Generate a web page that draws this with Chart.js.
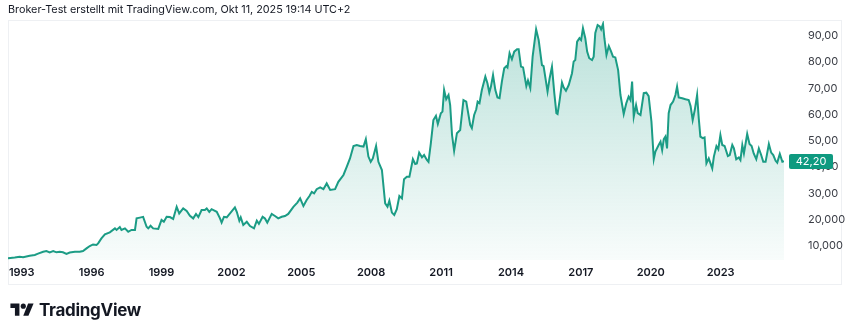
<!DOCTYPE html>
<html>
<head>
<meta charset="utf-8">
<script src="https://cdn.jsdelivr.net/npm/chart.js@4"></script>
<style>
    html, body { margin: 0; padding: 0; background: #fff; }
    #wrap { position: relative; width: 850px; height: 335px; overflow: hidden; }
    #chart { position: absolute; left: 0; top: 0; }
    #titel { position: absolute; left: 8px; top: 3px; font: 10.8px Inter, sans-serif; color: #131722; white-space: nowrap; }
    #logo { position: absolute; left: 10px; top: 300px; display: flex; align-items: center; }
    #logo span { font: 700 17px Inter, sans-serif; color: #131722; margin-left: 5px; letter-spacing: -0.3px; }
</style>
</head>
<body>
<div id="wrap">
    <canvas id="chart" width="850" height="335"></canvas>
    <div id="titel">Broker-Test erstellt mit TradingView.com, Okt 11, 2025 19:14 UTC+2</div>
    <div id="logo">
        <svg width="24" height="18" viewBox="0 0 36 28">
            <path d="M14 23H7V11H0V4h14v19z" fill="#131722"/>
            <circle cx="20" cy="8" r="4" fill="#131722"/>
            <path d="M28 23h-8l7.5-19h8.5z" fill="#131722"/>
        </svg>
        <span>TradingView</span>
    </div>
</div>
<script>
// Kursverlauf (Jahr als Dezimalzahl, Kurs)
const years = [
    1992.41, 1992.70, 1992.91, 1993.06, 1993.34, 1993.56, 1993.70, 1993.92, 1994.06, 1994.20,
    1994.35, 1994.49, 1994.63, 1994.77, 1994.92, 1995.06, 1995.28, 1995.49, 1995.63, 1995.78,
    1995.92, 1996.06, 1996.21, 1996.28, 1996.42, 1996.57, 1996.78, 1997.00, 1997.07, 1997.21,
    1997.28, 1997.43, 1997.57, 1997.71, 1997.86, 1997.93, 1998.07, 1998.21, 1998.36, 1998.43,
    1998.53, 1998.64, 1998.86, 1999.00, 1999.10, 1999.22, 1999.36, 1999.50, 1999.65, 1999.76,
    1999.93, 2000.08, 2000.22, 2000.36, 2000.48, 2000.58, 2000.72, 2000.86, 2000.94, 2001.05,
    2001.15, 2001.37, 2001.51, 2001.58, 2001.68, 2001.80, 2001.94, 2002.15, 2002.23, 2002.34,
    2002.40, 2002.51, 2002.66, 2002.80, 2002.97, 2003.09, 2003.18, 2003.34, 2003.44, 2003.54,
    2003.73, 2003.87, 2004.01, 2004.16, 2004.30, 2004.44, 2004.66, 2004.83, 2004.95, 2005.09,
    2005.23, 2005.35, 2005.45, 2005.55, 2005.66, 2005.81, 2005.95, 2006.09, 2006.24, 2006.45,
    2006.59, 2006.81, 2006.95, 2007.09, 2007.24, 2007.38, 2007.52, 2007.67, 2007.77, 2007.88,
    2007.98, 2008.07, 2008.21, 2008.31, 2008.46, 2008.60, 2008.70, 2008.78, 2008.89, 2008.99,
    2009.10, 2009.21, 2009.32, 2009.41, 2009.53, 2009.64, 2009.79, 2009.89, 2009.96, 2010.06,
    2010.18, 2010.27, 2010.39, 2010.46, 2010.56, 2010.67, 2010.78, 2010.86, 2010.99, 2011.06,
    2011.13, 2011.22, 2011.32, 2011.39, 2011.47, 2011.56, 2011.68, 2011.82, 2011.96, 2012.08,
    2012.25, 2012.32, 2012.42, 2012.51, 2012.57, 2012.65, 2012.75, 2012.90, 2012.99, 2013.07,
    2013.14, 2013.23, 2013.33, 2013.42, 2013.51, 2013.61, 2013.71, 2013.80, 2013.85, 2013.94,
    2014.04, 2014.14, 2014.26, 2014.33, 2014.43, 2014.52, 2014.66, 2014.73, 2014.83, 2014.93,
    2015.08, 2015.19, 2015.33, 2015.40, 2015.57, 2015.66, 2015.76, 2015.86, 2015.95, 2016.00,
    2016.09, 2016.19, 2016.26, 2016.36, 2016.48, 2016.62, 2016.69, 2016.76, 2016.84, 2016.94,
    2017.01, 2017.09, 2017.19, 2017.27, 2017.36, 2017.48, 2017.55, 2017.62, 2017.72, 2017.81,
    2017.87, 2017.95, 2018.01, 2018.10, 2018.20, 2018.30, 2018.38, 2018.48, 2018.60, 2018.70,
    2018.84, 2018.95, 2019.05, 2019.13, 2019.20, 2019.27, 2019.37, 2019.44, 2019.56, 2019.70,
    2019.81, 2019.91, 2020.03, 2020.13, 2020.20, 2020.34, 2020.42, 2020.49, 2020.56, 2020.63,
    2020.70, 2020.77, 2020.85, 2020.96, 2021.06, 2021.13, 2021.20, 2021.35, 2021.49, 2021.63,
    2021.71, 2021.80, 2021.89, 2021.99, 2022.06, 2022.13, 2022.23, 2022.31, 2022.39, 2022.49,
    2022.64, 2022.71, 2022.82, 2022.90, 2022.99, 2023.07, 2023.17, 2023.31, 2023.39, 2023.50,
    2023.57, 2023.67, 2023.78, 2023.85, 2023.93, 2024.00, 2024.14, 2024.24, 2024.33, 2024.42,
    2024.53, 2024.64, 2024.74, 2024.83, 2024.93, 2025.07, 2025.17, 2025.26, 2025.36, 2025.43,
    2025.54, 2025.65, 2025.72
];
const prices = [
    5.3, 5.6, 5.9, 5.7, 6.3, 6.6, 7.1, 7.8, 8.1, 7.6,
    8.1, 7.6, 7.8, 7.6, 7.0, 7.5, 7.8, 7.8, 8.1, 9.1,
    10.0, 10.6, 10.4, 11.0, 12.9, 14.4, 15.2, 16.7, 16.1, 17.2,
    16.1, 16.7, 15.4, 16.1, 16.1, 20.5, 20.8, 21.1, 17.3, 16.7,
    17.7, 16.7, 16.5, 19.9, 19.2, 21.1, 21.0, 20.3, 24.9, 22.4,
    24.3, 23.3, 21.5, 20.5, 22.2, 21.0, 23.7, 23.7, 24.3, 23.0,
    24.0, 23.0, 20.5, 18.9, 21.1, 20.9, 22.4, 24.7, 23.0, 19.6,
    20.9, 18.0, 19.2, 17.6, 16.7, 19.6, 18.4, 21.1, 20.5, 18.9,
    22.2, 21.4, 20.5, 21.1, 21.4, 22.2, 24.9, 26.5, 28.1, 25.2,
    27.5, 29.0, 30.6, 30.0, 31.6, 32.3, 31.6, 33.8, 31.3, 31.6,
    34.4, 37.0, 40.1, 43.3, 48.0, 48.4, 48.0, 47.8, 50.6, 44.0,
    42.0, 43.3, 48.0, 42.0, 38.9, 26.2, 24.9, 27.2, 22.7, 21.8,
    24.0, 29.0, 28.1, 35.4, 36.3, 36.3, 43.0, 41.2, 41.4, 45.5,
    43.7, 44.6, 42.7, 42.0, 49.0, 57.9, 59.5, 56.4, 60.5, 61.1,
    69.3, 65.8, 67.4, 63.6, 52.2, 46.2, 52.9, 54.1, 65.5, 64.9,
    56.0, 54.8, 59.8, 62.0, 64.9, 64.3, 69.3, 74.4, 71.9, 68.3,
    70.6, 75.0, 69.3, 66.5, 66.2, 72.5, 77.6, 78.4, 77.9, 83.3,
    81.0, 83.9, 84.8, 84.8, 78.2, 77.9, 70.8, 72.9, 70.0, 82.0,
    92.4, 88.3, 78.8, 78.4, 68.7, 73.8, 78.2, 68.1, 60.5, 60.2,
    65.5, 72.1, 70.3, 69.0, 71.2, 75.7, 80.1, 80.7, 87.7, 89.0,
    88.3, 92.8, 89.0, 83.9, 81.4, 80.7, 82.0, 91.0, 94.0, 93.5,
    92.4, 94.4, 89.0, 82.6, 86.0, 83.9, 82.0, 81.7, 76.9, 67.4,
    60.2, 64.3, 66.8, 65.5, 72.5, 59.2, 63.6, 60.5, 59.8, 68.1,
    68.3, 67.0, 57.3, 43.0, 45.9, 48.4, 49.7, 46.5, 50.6, 51.6,
    47.1, 60.5, 63.6, 64.9, 67.4, 70.6, 66.5, 66.2, 65.8, 65.5,
    63.2, 57.9, 61.7, 67.4, 58.6, 51.6, 51.0, 51.3, 41.4, 43.3,
    39.5, 44.0, 48.0, 46.8, 52.2, 48.4, 48.0, 44.2, 44.6, 48.4,
    47.1, 43.0, 43.7, 42.7, 48.4, 45.2, 52.6, 48.8, 48.0, 45.2,
    43.0, 47.1, 44.6, 42.0, 42.0, 48.8, 45.5, 44.6, 42.4, 41.7,
    45.0, 42.0, 42.2
];

// Achsenbeschriftungen
const tickYears = [1993, 1996, 1999, 2002, 2005, 2008, 2011, 2014, 2017, 2020, 2023];
const tickValues = [10, 20, 30, 40, 50, 60, 70, 80, 90];
const tickLabels = ['10,000', '20,000', '30,00', '40,00', '50,00', '60,00', '70,00', '80,00', '90,00'];

const lineColor = '#1b9c85';
const boxColor = '#0f9a80';

// Rahmen + Kursmarke rechts
const tvPlugin = {
    id: 'tvPlugin',
    beforeDraw(chart) {
        const ctx = chart.ctx;
        ctx.save();
        ctx.strokeStyle = '#eef0f3';
        ctx.lineWidth = 1;
        ctx.strokeRect(8.5, 20.5, 833, 264);
        ctx.restore();
    },
    afterDraw(chart) {
        const ctx = chart.ctx;
        const y = chart.scales.y.getPixelForValue(prices[prices.length - 1]);
        const txt = prices[prices.length - 1].toFixed(2).replace('.', ',');
        ctx.save();
        ctx.fillStyle = boxColor;
        ctx.beginPath();
        ctx.roundRect(789, Math.round(y) - 7, 44, 15, 2);
        ctx.fill();
        ctx.fillStyle = '#fff';
        ctx.font = '11px Inter, sans-serif';
        ctx.textAlign = 'center';
        ctx.textBaseline = 'middle';
        ctx.fillText(txt, 811, Math.round(y) + 0.5);
        ctx.restore();
    }
};

const ctx = document.getElementById('chart').getContext('2d');
new Chart(ctx, {
    type: 'line',
    data: {
        datasets: [{
            data: years.map((x, i) => ({ x: x, y: prices[i] })),
            borderColor: lineColor,
            borderWidth: 2,
            pointRadius: 0,
            tension: 0,
            fill: 'start',
            backgroundColor: (c) => {
                const area = c.chart.chartArea;
                if (!area) return 'rgba(27,156,133,0.2)';
                const g = c.chart.ctx.createLinearGradient(0, area.top, 0, area.bottom);
                g.addColorStop(0, 'rgba(27,156,133,0.30)');
                g.addColorStop(1, 'rgba(27,156,133,0.03)');
                return g;
            }
        }]
    },
    options: {
        responsive: false,
        animation: false,
        layout: { padding: { left: 8, top: 21, right: 0, bottom: 45 } },
        plugins: { legend: { display: false }, tooltip: { enabled: false } },
        scales: {
            x: {
                type: 'linear',
                min: years[0],
                max: years[years.length - 1],
                grid: { display: false, drawTicks: false },
                border: { display: false },
                afterBuildTicks: (s) => { s.ticks = tickYears.map(v => ({ value: v })); },
                afterFit: (s) => { s.height = 30; },
                ticks: {
                    autoSkip: false,
                    maxRotation: 0,
                    padding: 6,
                    color: '#131722',
                    font: { family: 'Inter', size: 11, weight: '600' },
                    callback: (v) => String(v)
                }
            },
            y: {
                position: 'right',
                min: 4.68,
                max: 95.55,
                // Abstand der Beschriftung über tickLength, nicht padding (sonst wächst der obere Rand)
                grid: { display: false, drawTicks: true, tickLength: 24 },
                border: { display: false },
                afterBuildTicks: (s) => { s.ticks = tickValues.map(v => ({ value: v })); },
                afterFit: (s) => { s.width = 66; },
                ticks: {
                    padding: 0,
                    color: '#3a3d45',
                    font: { family: 'Inter', size: 11 },
                    callback: (v) => tickLabels[tickValues.indexOf(v)]
                }
            }
        }
    },
    plugins: [tvPlugin]
});
</script>
</body>
</html>
